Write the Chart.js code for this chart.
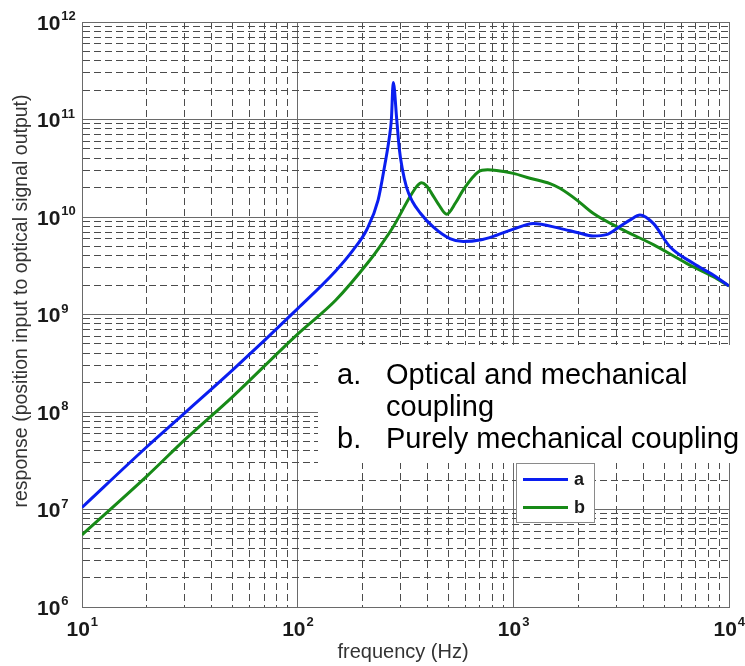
<!DOCTYPE html>
<html>
<head>
<meta charset="utf-8">
<script src="https://cdn.jsdelivr.net/npm/chart.js@4.4.1/dist/chart.umd.min.js"></script>
<style>
  html, body { margin: 0; padding: 0; background: #fff; }
  #wrap { width: 745px; height: 666px; }
</style>
</head>
<body>
<div id="wrap"><canvas id="respGraph"></canvas></div>
<script>
// frequency (Hz) and response values
const freqA = [10, 20, 30, 50, 100, 150, 181, 209, 236, 254, 266, 272, 277.5, 288, 296, 305, 320, 340, 370, 425, 508, 586, 700, 836, 1000, 1236, 1644, 2000, 2344, 2700, 3070, 3500, 3865, 4457, 5322, 6826, 8450, 10000];
const respA = [1.05e7, 4.4e7, 9.8e7, 2.7e8, 1.15e9, 2.8e9, 4.6e9, 7.4e9, 1.49e10, 3.5e10, 6.5e10, 1.0e11, 2.4e11, 1.0e11, 5.0e10, 3.2e10, 2.0e10, 1.45e10, 1.1e10, 7.9e9, 6.0e9, 5.6e9, 5.8e9, 6.5e9, 7.5e9, 8.6e9, 7.65e9, 6.9e9, 6.4e9, 6.6e9, 7.8e9, 9.4e9, 1.05e10, 8.6e9, 4.96e9, 3.35e9, 2.54e9, 1.96e9];

const freqB = [10, 20, 30, 50, 100, 150, 216, 241, 277, 331, 356, 375, 395, 418, 450, 491, 540, 586, 687, 760, 836, 1000, 1194, 1479, 1644, 1965, 2344, 3120, 4457, 6357, 8450, 10000];
const respB = [5.5e6, 2.2e7, 5.2e7, 1.44e8, 6.3e8, 1.4e9, 3.6e9, 5.0e9, 7.9e9, 1.6e10, 2.05e10, 2.25e10, 2.1e10, 1.75e10, 1.35e10, 1.07e10, 1.4e10, 1.9e10, 2.9e10, 3.05e10, 3.0e10, 2.8e10, 2.5e10, 2.2e10, 1.97e10, 1.5e10, 1.09e10, 7.65e9, 5.2e9, 3.35e9, 2.44e9, 1.96e9];

const seriesLabels = ['a', 'b'];
const seriesColors = ['#0a1ef0', '#178a17'];
const noteLines = [['a.', 'Optical and mechanical'], ['', 'coupling'], ['b.', 'Purely mechanical coupling']];

const xDecades = [1, 2, 3, 4];          // 10^1 .. 10^4
const yDecades = [6, 7, 8, 9, 10, 11, 12]; // 10^6 .. 10^12
const xTitle = 'frequency (Hz)';
const yTitle = 'response (position input to optical signal output)';

const toPoints = (xs, ys) => xs.map((x, i) => ({x: x, y: ys[i]}));

// 1..9 x 10^k ticks for a log axis
const logTicks = (decades) => {
    const ticks = [];
    for (let d = decades[0]; d < decades[decades.length - 1]; d++) {
        for (let m = 1; m <= 9; m++) {
            ticks.push({value: m * Math.pow(10, d), major: m === 1});
        }
    }
    ticks.push({value: Math.pow(10, decades[decades.length - 1]), major: true});
    return ticks;
};

const gridOpts = {
    drawTicks: false,
    lineWidth: 1,
    color: (ctx) => (ctx.tick && ctx.tick.major) ? '#6a6a6a' : '#4c4c4c'
};
const borderOpts = {
    display: true,
    color: '#6a6a6a',
    width: 1,
    dash: (ctx) => (ctx.tick && ctx.tick.major) ? [] : [7, 4]
};

const drawPow = (ctx, x, y, exp, big, small, raise) => {
    ctx.font = 'bold ' + big + 'px "Liberation Sans", Arial, sans-serif';
    ctx.textAlign = 'left';
    ctx.textBaseline = 'alphabetic';
    ctx.fillText('10', x, y);
    const w = ctx.measureText('10').width;
    ctx.font = 'bold ' + small + 'px "Liberation Sans", Arial, sans-serif';
    ctx.fillText(String(exp), x + w + 1, y - raise);
};

const textPlugin = {
    id: 'textPlugin',
    afterDraw: (chart) => {
        const ctx = chart.ctx;
        const xs = chart.scales.x;
        const ys = chart.scales.y;
        ctx.save();
        ctx.fillStyle = '#1a1a1a';

        // tick labels with superscript exponents
        yDecades.forEach(k => {
            const py = ys.getPixelForValue(Math.pow(10, k));
            drawPow(ctx, 37, py + 7.5, k, 21, 13, 9.5);
        });
        xDecades.forEach(k => {
            const px = xs.getPixelForValue(Math.pow(10, k));
            drawPow(ctx, px - 15.5, 636, k, 21, 13, 10);
        });

        // axis titles
        ctx.fillStyle = '#333';
        ctx.font = '20px "Liberation Sans", Arial, sans-serif';
        ctx.textAlign = 'center';
        ctx.textBaseline = 'middle';
        ctx.fillText(xTitle, 403, 652);
        ctx.save();
        ctx.translate(22, 301);
        ctx.rotate(-Math.PI / 2);
        ctx.font = '19.5px "Liberation Sans", Arial, sans-serif';
        ctx.fillText(yTitle, 0, 0);
        ctx.restore();

        // annotation box
        ctx.fillStyle = '#fff';
        ctx.fillRect(318, 345, 427, 118);
        ctx.fillStyle = '#000';
        ctx.font = '29px "Liberation Sans", Arial, sans-serif';
        ctx.textAlign = 'left';
        ctx.textBaseline = 'alphabetic';
        noteLines.forEach((line, i) => {
            const by = 384 + i * 32;
            if (line[0]) ctx.fillText(line[0], 337, by);
            ctx.fillText(line[1], 386, by);
        });

        // legend
        ctx.fillStyle = '#fff';
        ctx.fillRect(516, 463, 79, 60);
        ctx.strokeStyle = '#8a8a8a';
        ctx.lineWidth = 1;
        ctx.strokeRect(516.5, 463.5, 78, 59);
        chart.data.datasets.forEach((ds, i) => {
            const ly = 479.5 + i * 28;
            ctx.strokeStyle = ds.borderColor;
            ctx.lineWidth = 3;
            ctx.beginPath();
            ctx.moveTo(523, ly);
            ctx.lineTo(568, ly);
            ctx.stroke();
            ctx.fillStyle = '#1a1a1a';
            ctx.font = 'bold 18px "Liberation Sans", Arial, sans-serif';
            ctx.textBaseline = 'middle';
            ctx.fillText(ds.label, 574, ly + 1);
        });
        ctx.restore();
    }
};

const showGraph = () => {
    const respGraph = document.querySelector('#respGraph');
    new Chart(respGraph, {
        type: 'line',
        data: {
            datasets: [
                {
                    label: seriesLabels[0],
                    data: toPoints(freqA, respA),
                    borderColor: seriesColors[0]
                },
                {
                    label: seriesLabels[1],
                    data: toPoints(freqB, respB),
                    borderColor: seriesColors[1]
                }
            ]
        },
        options: {
            responsive: true,
            maintainAspectRatio: false,
            animation: false,
            layout: {padding: {left: 82, top: 22, right: 16, bottom: 59}},
            elements: {
                line: {borderWidth: 3, cubicInterpolationMode: 'monotone', fill: false},
                point: {radius: 0}
            },
            plugins: {legend: {display: false}, tooltip: {enabled: false}},
            scales: {
                x: {
                    type: 'logarithmic',
                    min: 10,
                    max: 10000,
                    afterBuildTicks: (scale) => { scale.ticks = logTicks(xDecades); },
                    ticks: {display: false},
                    grid: gridOpts,
                    border: borderOpts
                },
                y: {
                    type: 'logarithmic',
                    min: 1e6,
                    max: 1e12,
                    afterBuildTicks: (scale) => { scale.ticks = logTicks(yDecades); },
                    ticks: {display: false},
                    grid: gridOpts,
                    border: borderOpts
                }
            }
        },
        plugins: [textPlugin]
    });
};

showGraph();
</script>
</body>
</html>
